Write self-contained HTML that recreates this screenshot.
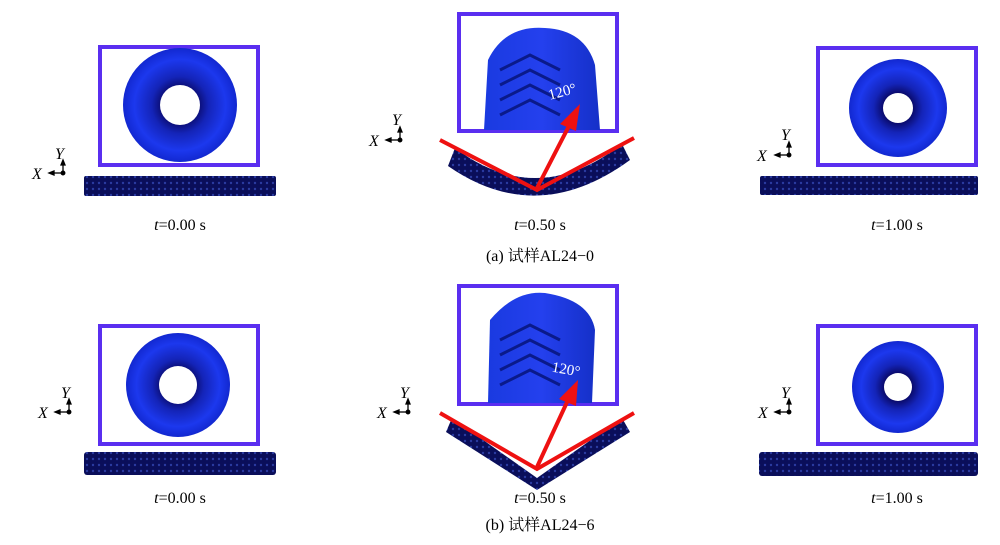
<!DOCTYPE html>
<html><head><meta charset="utf-8"><style>
html,body{margin:0;padding:0;background:#fff;width:1000px;height:545px;overflow:hidden}
svg{display:block}
text{font-family:"Liberation Serif","Noto Serif CJK SC","Noto Sans CJK SC",serif;fill:#000}
</style></head><body>
<svg width="1000" height="545" viewBox="0 0 1000 545" xmlns="http://www.w3.org/2000/svg">
<defs>
<radialGradient id="dn" cx="50%" cy="50%" r="50%">
<stop offset="0.3" stop-color="#0a0a6a"/><stop offset="0.5" stop-color="#1424b8"/><stop offset="0.8" stop-color="#1c38ee"/><stop offset="1" stop-color="#1228d0"/>
</radialGradient>
<pattern id="tb" width="6" height="6" patternUnits="userSpaceOnUse">
<rect width="6" height="6" fill="#0a0e5a"/><circle cx="3" cy="3" r="1.2" fill="#2a3aa0"/>
</pattern>
<linearGradient id="cyl" x1="0" y1="0" x2="1" y2="0"><stop offset="0" stop-color="#1a3ae0"/><stop offset="0.5" stop-color="#2440ee"/><stop offset="1" stop-color="#1530c8"/></linearGradient>
</defs>

<g fill="none" stroke="#5a2ef0" stroke-width="4">
<rect x="100" y="47" width="158" height="118"/>
<rect x="459" y="14" width="158" height="117"/>
<rect x="818" y="48" width="158" height="117"/>
<rect x="100" y="326" width="158" height="118"/>
<rect x="459" y="286" width="158" height="118"/>
<rect x="818" y="326" width="158" height="118"/>
</g>

<circle cx="180" cy="105" r="57" fill="url(#dn)"/>
<circle cx="180" cy="105" r="20" fill="#fff"/>
<circle cx="898" cy="108" r="49" fill="url(#dn)"/>
<circle cx="898" cy="108" r="15" fill="#fff"/>
<circle cx="178" cy="385" r="52" fill="url(#dn)"/>
<circle cx="178" cy="385" r="19" fill="#fff"/>
<circle cx="898" cy="387" r="46" fill="url(#dn)"/>
<circle cx="898" cy="387" r="14" fill="#fff"/>

<path d="M484 130 L488 60 Q505 25 545 28 Q585 30 595 65 L600 130 Z" fill="url(#cyl)"/>
<g stroke="#0a1a8a" stroke-width="3" fill="none">
<path d="M500 70 L530 55 L560 70"/><path d="M500 85 L530 70 L560 85"/><path d="M500 100 L530 85 L560 100"/><path d="M500 115 L530 100 L560 115"/>
</g>
<path d="M488 403 L490 320 Q515 290 545 293 Q590 300 595 330 L592 403 Z" fill="url(#cyl)"/>
<g stroke="#0a1a8a" stroke-width="3" fill="none">
<path d="M500 340 L530 325 L560 340"/><path d="M500 355 L530 340 L560 355"/><path d="M500 370 L530 355 L560 370"/><path d="M500 385 L530 370 L560 385"/>
</g>
<text x="548" y="97" font-size="15" style="fill:#fff" transform="rotate(-15 560 92)">120°</text>
<text x="552" y="373" font-size="15" style="fill:#fff" transform="rotate(10 560 368)">120°</text>

<rect x="84" y="176" width="192" height="20" fill="url(#tb)" rx="2"/>
<rect x="760" y="176" width="218" height="19" fill="url(#tb)" rx="2"/>
<rect x="84" y="452" width="192" height="23" fill="url(#tb)" rx="3"/>
<rect x="759" y="452" width="219" height="24" fill="url(#tb)" rx="3"/>
<path d="M455 148 Q537 210 622 144 L630 160 Q537 228 448 166 Z" fill="url(#tb)"/>
<path d="M452 418 L537 478 L622 418 L630 432 L537 490 L446 432 Z" fill="url(#tb)"/>

<g stroke="#ee1111" stroke-width="4" fill="none">
<polyline points="440,140 537,190 634,138"/>
<line x1="537" y1="188" x2="570" y2="124"/>
<polyline points="440,413 537,469 634,413"/>
<line x1="537" y1="467" x2="568" y2="400"/>
</g>
<polygon points="580,104 560,124 576,131" fill="#ee1111"/>
<polygon points="578,380 559,399 576,406" fill="#ee1111"/>

<g stroke="#000" stroke-width="1.3" fill="#000">
<g transform="translate(63,173)"><line x1="0" y1="0" x2="0" y2="-11"/><line x1="0" y1="0" x2="-12" y2="0"/><polygon points="0,-13 -2,-8 2,-8"/><polygon points="-14,0 -9,-2 -9,2"/><circle r="1.8"/></g>
<g transform="translate(400,140)"><line x1="0" y1="0" x2="0" y2="-11"/><line x1="0" y1="0" x2="-12" y2="0"/><polygon points="0,-13 -2,-8 2,-8"/><polygon points="-14,0 -9,-2 -9,2"/><circle r="1.8"/></g>
<g transform="translate(789,155)"><line x1="0" y1="0" x2="0" y2="-11"/><line x1="0" y1="0" x2="-12" y2="0"/><polygon points="0,-13 -2,-8 2,-8"/><polygon points="-14,0 -9,-2 -9,2"/><circle r="1.8"/></g>
<g transform="translate(69,412)"><line x1="0" y1="0" x2="0" y2="-11"/><line x1="0" y1="0" x2="-12" y2="0"/><polygon points="0,-13 -2,-8 2,-8"/><polygon points="-14,0 -9,-2 -9,2"/><circle r="1.8"/></g>
<g transform="translate(408,412)"><line x1="0" y1="0" x2="0" y2="-11"/><line x1="0" y1="0" x2="-12" y2="0"/><polygon points="0,-13 -2,-8 2,-8"/><polygon points="-14,0 -9,-2 -9,2"/><circle r="1.8"/></g>
<g transform="translate(789,412)"><line x1="0" y1="0" x2="0" y2="-11"/><line x1="0" y1="0" x2="-12" y2="0"/><polygon points="0,-13 -2,-8 2,-8"/><polygon points="-14,0 -9,-2 -9,2"/><circle r="1.8"/></g>
</g>
<g font-size="16" font-style="italic">
<text x="55" y="159">Y</text><text x="32" y="179">X</text>
<text x="392" y="125">Y</text><text x="369" y="146">X</text>
<text x="781" y="140">Y</text><text x="757" y="161">X</text>
<text x="61" y="398">Y</text><text x="38" y="418">X</text>
<text x="400" y="398">Y</text><text x="377" y="418">X</text>
<text x="781" y="398">Y</text><text x="758" y="418">X</text>
</g>

<g font-size="16" text-anchor="middle">
<text x="180" y="230"><tspan font-style="italic">t</tspan>=0.00 s</text>
<text x="540" y="230"><tspan font-style="italic">t</tspan>=0.50 s</text>
<text x="897" y="230"><tspan font-style="italic">t</tspan>=1.00 s</text>
<text x="540" y="261">(a) 试样AL24−0</text>
<text x="180" y="503"><tspan font-style="italic">t</tspan>=0.00 s</text>
<text x="540" y="503"><tspan font-style="italic">t</tspan>=0.50 s</text>
<text x="897" y="503"><tspan font-style="italic">t</tspan>=1.00 s</text>
<text x="540" y="530">(b) 试样AL24−6</text>
</g>
</svg>
</body></html>
